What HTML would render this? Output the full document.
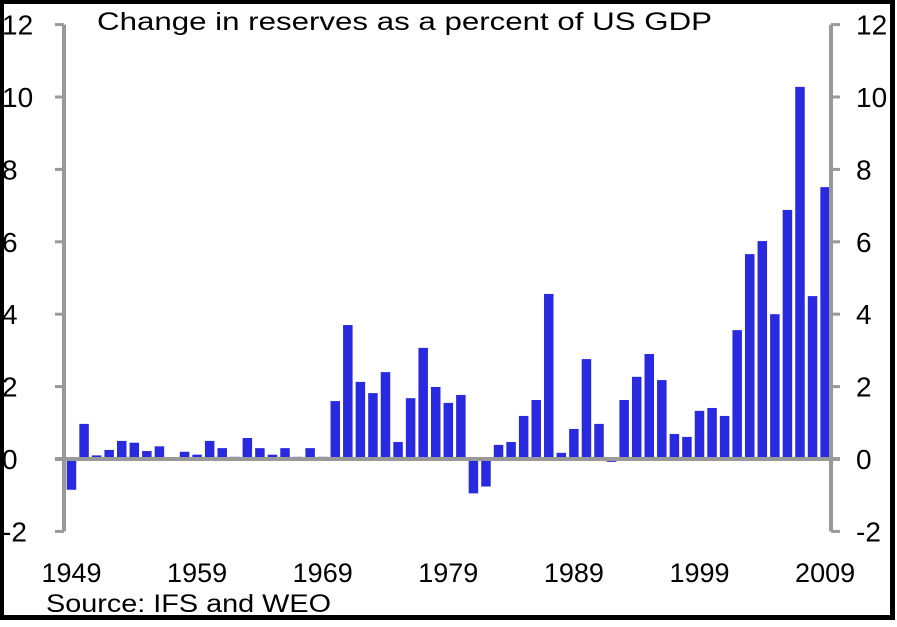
<!DOCTYPE html>
<html><head><meta charset="utf-8"><style>
body{margin:0;background:#fff;}
svg{display:block;font-family:"Liberation Sans",Arial,sans-serif;}
</style></head><body>
<svg id="chart" width="897" height="627">
<rect x="1.5" y="1.5" width="891" height="616" fill="#fff" stroke="#000" stroke-width="5"/>
<text x="97" y="30" font-size="25" textLength="615" lengthAdjust="spacingAndGlyphs" fill="#000">Change in reserves as a percent of US GDP</text>
<g id="bars"></g>
<g id="axes"></g>
<text x="46" y="612" font-size="25" textLength="285" lengthAdjust="spacingAndGlyphs" fill="#000">Source: IFS and WEO</text>
</svg>
<script>
const years=[];for(let y=1949;y<=2009;y++)years.push(y);
const values=[-0.85,0.97,0.1,0.25,0.5,0.45,0.22,0.35,0,0.2,0.12,0.5,0.3,0.06,0.58,0.3,0.12,0.3,0.06,0.3,0.06,1.6,3.7,2.13,1.82,2.4,0.47,1.68,3.07,1.99,1.55,1.77,-0.95,-0.76,0.39,0.47,1.19,1.63,4.56,0.17,0.83,2.76,0.97,-0.08,1.63,2.27,2.9,2.18,0.69,0.61,1.33,1.41,1.19,3.56,5.66,6.02,4.0,6.88,10.28,4.5,7.51];
const yTicks=[-2,0,2,4,6,8,10,12];
const xLabels=[1949,1959,1969,1979,1989,1999,2009];
const NS="http://www.w3.org/2000/svg";
const y0=459,unit=36.2,x0=71.5,step=12.56;
const yS=v=>y0-v*unit;
const xS=yr=>x0+(yr-1949)*step;
function mk(tag,attrs,parent){const e=document.createElementNS(NS,tag);for(const k in attrs)e.setAttribute(k,attrs[k]);parent.appendChild(e);return e;}
const bars=document.getElementById('bars'),axes=document.getElementById('axes');
values.forEach((v,i)=>{
 const cx=xS(years[i]),w=9.5;
 const top=Math.min(yS(v),y0),h=Math.abs(yS(v)-y0);
 const r=mk('rect',{x:cx-w/2,y:top,width:w,height:h,fill:'#2929e0'},bars);
 
 
});
const la=mk('line',{x1:64,x2:64,y1:yS(12),y2:yS(-2),stroke:'#999',"stroke-width":4},axes);


const ra=mk('line',{x1:831,x2:831,y1:yS(12),y2:yS(-2),stroke:'#999',"stroke-width":4},axes);


const za=mk('line',{x1:55,x2:840,y1:y0,y2:y0,stroke:'#999',"stroke-width":4},axes);


yTicks.forEach(t=>{
 const y=yS(t);
 mk('line',{x1:55,x2:64,y1:y,y2:y,stroke:'#999',"stroke-width":3},axes);
 mk('line',{x1:831,x2:840,y1:y,y2:y,stroke:'#999',"stroke-width":3},axes);
 const l=mk('text',{x:2,y:y+10,"font-size":28,fill:'#000'},axes);l.textContent=t;
 
 
 const r=mk('text',{x:856,y:y+10,"font-size":28,fill:'#000'},axes);r.textContent=t;
 
 
});
xLabels.forEach(yr=>{
 const t=mk('text',{x:xS(yr),y:582,"font-size":27,fill:'#000',"text-anchor":'middle'},axes);t.textContent=yr;
 
 
});
</script>
</body></html>
